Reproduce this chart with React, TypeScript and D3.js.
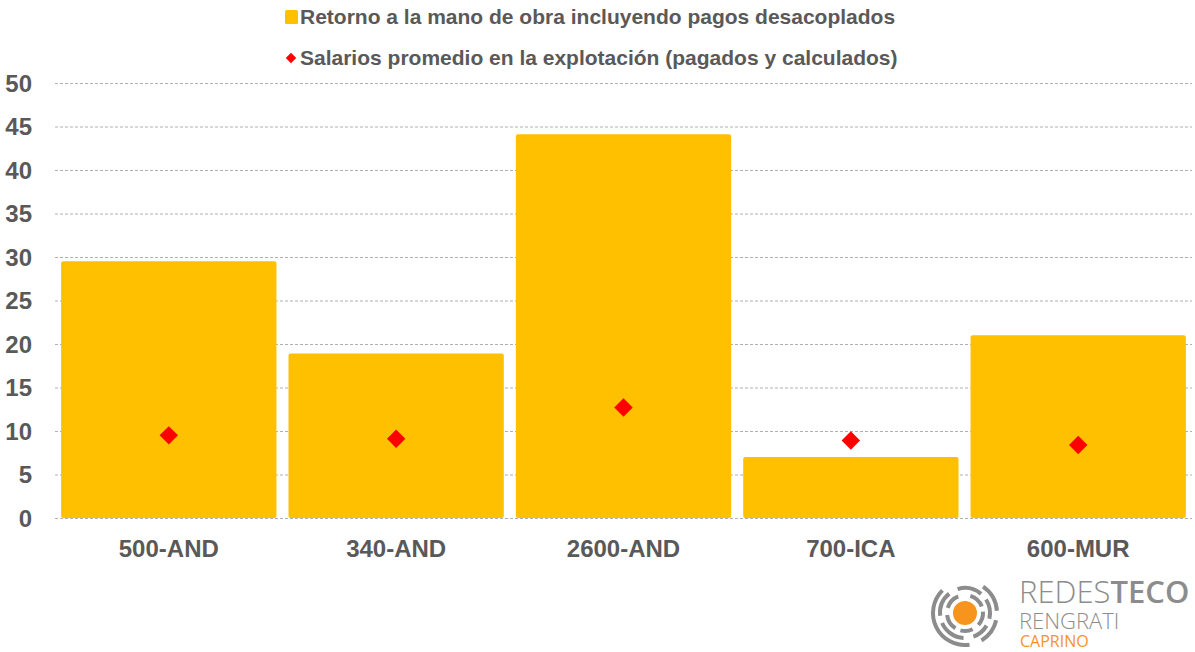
import { useEffect, useRef } from "react"
import * as d3 from "d3"

// Chart data
const categories = ["500-AND", "340-AND", "2600-AND", "700-ICA", "600-MUR"]
const retornoValues = [29.5, 18.9, 44.1, 7.0, 21.0]
const salarioValues = [9.5, 9.1, 12.7, 8.9, 8.4]
const yTicks = [0, 5, 10, 15, 20, 25, 30, 35, 40, 45, 50]
const legendLabels = [
  "Retorno a la mano de obra incluyendo pagos desacoplados",
  "Salarios promedio en la explotación (pagados y calculados)",
]

const W = 1195
const H = 652
const FONT = "'Liberation Sans', Arial, sans-serif"
const GREY = "#595959"

const App = () => {
  const svgRef = useRef<SVGSVGElement>(null)

  useEffect(() => {
    if (!svgRef.current) return
    const svg = d3.select(svgRef.current)
    svg.selectAll("*").remove()

    const left = 55
    const right = 1192
    const top = 83
    const bottom = 518

    const x = d3.scaleBand().domain(categories).range([left, right]).paddingInner(0.053).paddingOuter(0.027)
    const y = d3.scaleLinear().domain([0, 50]).range([bottom, top])

    // gridlines
    svg
      .append("g")
      .selectAll("line")
      .data(yTicks)
      .join("line")
      .attr("x1", left)
      .attr("x2", right)
      .attr("y1", (d) => y(d) + 0.5)
      .attr("y2", (d) => y(d) + 0.5)
      .attr("stroke", "#b0b0b0")
      .attr("stroke-width", 1)
      .attr("stroke-dasharray", "3,2")

    // y tick labels
    svg
      .append("g")
      .selectAll("text")
      .data(yTicks)
      .join("text")
      .attr("x", 32)
      .attr("y", (d) => y(d))
      .attr("dy", "0.36em")
      .attr("text-anchor", "end")
      .attr("font-family", FONT)
      .attr("font-weight", "bold")
      .attr("font-size", 24)
      .attr("fill", GREY)
      .text((d) => d)

    // bars
    svg
      .append("g")
      .selectAll("rect")
      .data(categories)
      .join("rect")
      .attr("x", (d) => x(d)!)
      .attr("width", x.bandwidth())
      .attr("y", (_, i) => y(retornoValues[i]))
      .attr("height", (_, i) => bottom - y(retornoValues[i]))
      .attr("rx", 2)
      .attr("fill", "#ffc000")

    // diamonds
    const diamond = d3.symbol().type(d3.symbolSquare).size(170)
    svg
      .append("g")
      .selectAll("path")
      .data(categories)
      .join("path")
      .attr("d", diamond)
      .attr("transform", (d, i) => `translate(${x(d)! + x.bandwidth() / 2},${y(salarioValues[i])}) rotate(45)`)
      .attr("fill", "#ff0000")

    // category labels
    svg
      .append("g")
      .selectAll("text")
      .data(categories)
      .join("text")
      .attr("x", (d) => x(d)! + x.bandwidth() / 2)
      .attr("y", 557)
      .attr("text-anchor", "middle")
      .attr("font-family", FONT)
      .attr("font-weight", "bold")
      .attr("font-size", 24)
      .attr("fill", GREY)
      .text((d) => d)

    // legend
    const lg = svg.append("g")
    lg.append("rect").attr("x", 285).attr("y", 10).attr("width", 13).attr("height", 14).attr("rx", 1.5).attr("fill", "#ffc000")
    lg.append("text")
      .attr("x", 300)
      .attr("y", 24)
      .attr("font-family", FONT)
      .attr("font-weight", "bold")
      .attr("font-size", 21)
      .attr("fill", GREY)
      .text(legendLabels[0])
    lg.append("path")
      .attr("d", d3.symbol().type(d3.symbolSquare).size(55)())
      .attr("transform", "translate(291,58) rotate(45)")
      .attr("fill", "#ff0000")
    lg.append("text")
      .attr("x", 300)
      .attr("y", 65)
      .attr("font-family", FONT)
      .attr("font-weight", "bold")
      .attr("font-size", 21)
      .attr("fill", GREY)
      .text(legendLabels[1])

    // logo
    const logo = svg.append("g")
    const cx = 965
    const cy = 613
    logo.append("circle").attr("cx", cx).attr("cy", cy).attr("r", 12).attr("fill", "#f7941d")
    const arc = d3.arc()
    const rings = [
      { r: 18, segs: [[0.3, 1.2], [1.5, 2.3], [2.7, 3.4], [3.7, 4.6], [5.0, 5.9]] },
      { r: 25, segs: [[-0.3, 0.7], [1.0, 1.8], [2.1, 2.8], [3.2, 4.3], [4.6, 5.6]] },
      { r: 32, segs: [[0.6, 1.5], [1.8, 2.6], [3.0, 5.5]] },
    ]
    rings.forEach((ring) => {
      ring.segs.forEach(([a0, a1]) => {
        logo
          .append("path")
          .attr("transform", `translate(${cx},${cy})`)
          .attr("d", arc({ innerRadius: ring.r - 2, outerRadius: ring.r + 2, startAngle: a0, endAngle: a1 })!)
          .attr("fill", "#8c8c8c")
      })
    })
    const t1 = logo.append("text").attr("x", 1019).attr("y", 603).attr("font-family", "'Open Sans', sans-serif").attr("font-size", 31).attr("fill", "#8c8c8c")
    t1.append("tspan").attr("font-weight", 300).text("REDES")
    t1.append("tspan").attr("font-weight", 600).text("TECO")
    logo.append("text").attr("x", 1019).attr("y", 629).attr("font-family", "'Open Sans', sans-serif").attr("font-weight", 300).attr("font-size", 22).attr("fill", "#8c8c8c").text("RENGRATI")
    logo.append("text").attr("x", 1020).attr("y", 647).attr("font-family", "'Open Sans', sans-serif").attr("font-weight", 400).attr("font-size", 16).attr("fill", "#f7941d").text("CAPRINO")
  }, [])

  return <svg ref={svgRef} width={W} height={H} style={{ display: "block", position: "absolute", left: 0, top: 0 }} />
}

export default App
